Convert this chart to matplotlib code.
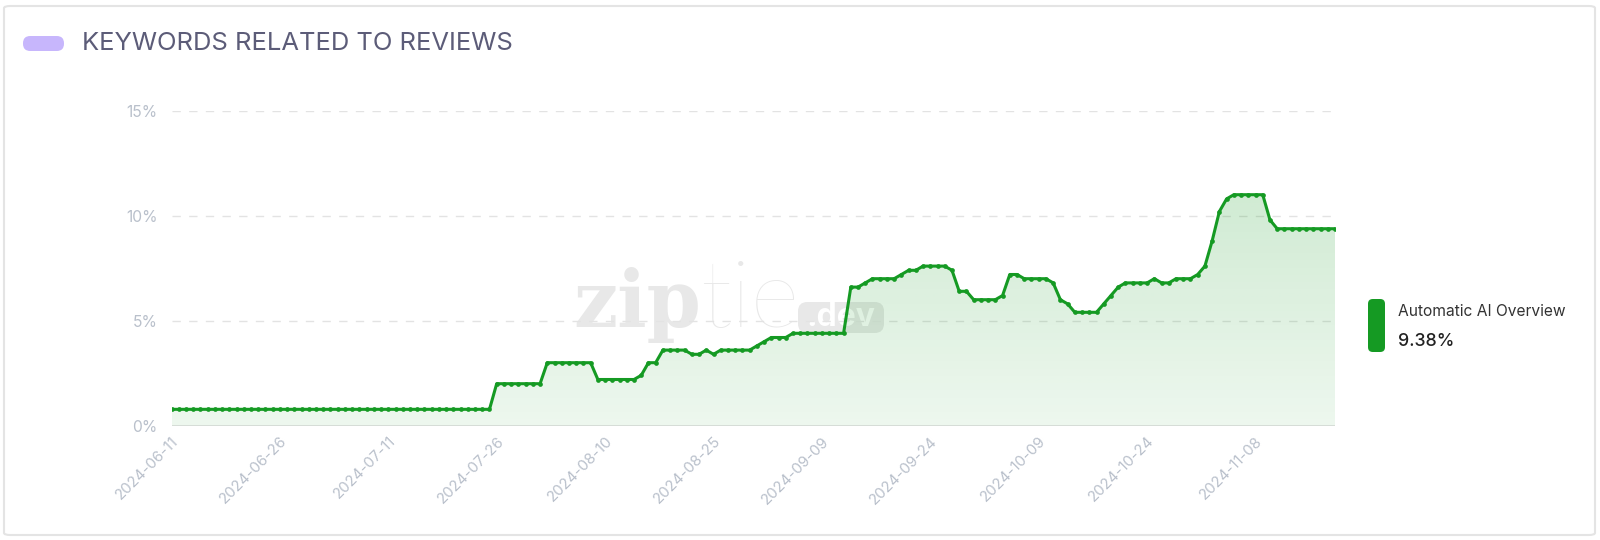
import matplotlib
matplotlib.use("Agg")
import matplotlib.pyplot as plt
import matplotlib.dates as mdates
from matplotlib.patches import FancyBboxPatch
from matplotlib.colors import to_rgb
import numpy as np
import pandas as pd

# ---------------- data ----------------
start_date = "2024-06-11"
values = [
    0.78, 0.78, 0.78, 0.78, 0.78, 0.78, 0.78, 0.78, 0.78, 0.78,
    0.78, 0.78, 0.78, 0.78, 0.78, 0.78, 0.78, 0.78, 0.78, 0.78,
    0.78, 0.78, 0.78, 0.78, 0.78, 0.78, 0.78, 0.78, 0.78, 0.78,
    0.78, 0.78, 0.78, 0.78, 0.78, 0.78, 0.78, 0.78, 0.78, 0.78,
    0.78, 0.78, 0.78, 0.78, 0.78,
    2.0, 2.0, 2.0, 2.0, 2.0, 2.0, 2.0,
    3.0, 3.0, 3.0, 3.0, 3.0, 3.0, 3.0,
    2.2, 2.2, 2.2, 2.2, 2.2, 2.2,
    2.4, 3.0, 3.0,
    3.6, 3.6, 3.6, 3.6,
    3.4, 3.4, 3.6, 3.4,
    3.6, 3.6, 3.6, 3.6, 3.6,
    3.8, 4.0, 4.2, 4.2, 4.2,
    4.4, 4.4, 4.4, 4.4, 4.4, 4.4, 4.4, 4.4,
    6.6, 6.6, 6.8,
    7.0, 7.0, 7.0, 7.0,
    7.2, 7.4, 7.4,
    7.6, 7.6, 7.6, 7.6,
    7.4, 6.4, 6.4,
    6.0, 6.0, 6.0, 6.0,
    6.2, 7.2, 7.2,
    7.0, 7.0, 7.0, 7.0,
    6.8, 6.0, 5.8,
    5.4, 5.4, 5.4, 5.4,
    5.8, 6.2, 6.6,
    6.8, 6.8, 6.8, 6.8,
    7.0, 6.8, 6.8,
    7.0, 7.0, 7.0,
    7.2, 7.6, 8.8, 10.2, 10.8,
    11.0, 11.0, 11.0, 11.0, 11.0,
    9.8,
    9.38, 9.38, 9.38, 9.38, 9.38, 9.38, 9.38, 9.38, 9.38,
]
dates = pd.date_range(start_date, periods=len(values), freq="D")
tick_labels = ["2024-06-11", "2024-06-26", "2024-07-11", "2024-07-26",
               "2024-08-10", "2024-08-25", "2024-09-09", "2024-09-24",
               "2024-10-09", "2024-10-24", "2024-11-08"]
y_ticks = [0, 5, 10, 15]
y_tick_labels = ["0%", "5%", "10%", "15%"]
title = "KEYWORDS RELATED TO REVIEWS"
series_name = "Automatic AI Overview"
latest_label = "9.38%"

# ---------------- style ----------------
GREEN = "#159a23"
TICK_C = "#b9c0cb"
WM_C = "#e8e8e8"
plt.rcParams["font.family"] = ["Inter", "DejaVu Sans"]

W, H = 1600, 540
fig = plt.figure(figsize=(W / 100, H / 100), dpi=100)
fig.patch.set_facecolor("white")

# card border
card = FancyBboxPatch((4 / W, 5 / H), 1591 / W, 529 / H,
                      boxstyle="round,pad=0,rounding_size=0.004",
                      transform=fig.transFigure, fc="none", ec="#e4e4e4",
                      lw=1.5, zorder=-1)
fig.patches.append(card)

# title pill + title
pill = FancyBboxPatch((23 / W, (H - 51) / H), 41 / W, 15 / H,
                      boxstyle="round,pad=0,rounding_size=0.0045",
                      transform=fig.transFigure, fc="#c7b6fc", ec="none",
                      mutation_aspect=W / H)
fig.patches.append(pill)
fig.text(82 / W, (H - 44) / H, title, fontsize=18.4, color="#5c5c78",
         va="center", ha="left")

# axes
x_left, x_right = 171.5, 1335
y_bot, y_top = 425.7, 110.7
ax_w, ax_h = x_right - x_left, y_bot - y_top
ax = fig.add_axes([x_left / W, (H - y_bot) / H, ax_w / W, ax_h / H])
ax.set_facecolor("none")
xnum = mdates.date2num(dates)

# watermark (behind everything in the axes)
ax.text((573 - x_left) / ax_w, (y_bot - 327) / ax_h, "zip",
        transform=ax.transAxes, fontsize=56, family="DejaVu Serif",
        weight="bold", color=WM_C, ha="left", va="baseline", zorder=0)
ax.text((700 - x_left) / ax_w, (y_bot - 327) / ax_h, "tie",
        transform=ax.transAxes, fontsize=68, family="Lato",
        weight="light", color=WM_C, ha="left", va="baseline", zorder=0)
wm_box = FancyBboxPatch(((798 - x_left) / ax_w, (y_bot - 333) / ax_h),
                        86 / ax_w, 31 / ax_h,
                        boxstyle="round,pad=0,rounding_size=0.008",
                        transform=ax.transAxes, fc=WM_C, ec="none",
                        zorder=0.5, mutation_aspect=ax_w / ax_h)
ax.add_patch(wm_box)
ax.text((841 - x_left) / ax_w, (y_bot - 318) / ax_h, ".dev",
        transform=ax.transAxes, fontsize=23, weight="bold", color="white",
        ha="center", va="center", zorder=0.6)

# grid
for yv in y_ticks[1:]:
    ax.axhline(yv, color="#e3e3e3", lw=1.0, dashes=(6, 6), zorder=1)
ax.axhline(0, color="#dcdcdc", lw=1.2, zorder=2)

# gradient fill
vals = np.array(values)
ymax_fill = vals.max()
poly = ax.fill_between(xnum, 0, vals, color="none", lw=0)
rgb = np.array(to_rgb(GREEN))
ngrad = 256
alphas = np.linspace(0.075, 0.2, ngrad)[:, None]
img = np.zeros((ngrad, 2, 4))
img[..., :3] = rgb
img[..., 3] = alphas
im = ax.imshow(img, extent=[xnum[0], xnum[-1], 0, ymax_fill], origin="lower",
               aspect="auto", zorder=2, interpolation="bilinear")
im.set_clip_path(poly.get_paths()[0], transform=ax.transData)

# line
ax.plot(xnum, vals, color=GREEN, lw=2.2, marker="o", ms=3.4,
        markeredgewidth=0, zorder=4, solid_joinstyle="round")

ax.set_xlim(xnum[0], xnum[-1])
ax.set_ylim(0, 15)

# ticks
tick_pos = mdates.date2num(pd.to_datetime(tick_labels))
ax.set_xticks(tick_pos)
ax.set_xticklabels(tick_labels, rotation=45, ha="right", va="top",
                   rotation_mode="anchor", color=TICK_C, fontsize=10.8)
ax.set_yticks(y_ticks)
ax.set_yticklabels(y_tick_labels, color=TICK_C, fontsize=11.3)
ax.tick_params(axis="both", length=0)
ax.tick_params(axis="x", pad=6)
ax.tick_params(axis="y", pad=10)
for s in ax.spines.values():
    s.set_visible(False)

# legend
leg = FancyBboxPatch((1368 / W, (H - 352) / H), 17 / W, 53 / H,
                     boxstyle="round,pad=0,rounding_size=0.003",
                     transform=fig.transFigure, fc=GREEN, ec="none",
                     mutation_aspect=W / H)
fig.patches.append(leg)
fig.text(1398 / W, (H - 312) / H, series_name, fontsize=11.2, color="#333333",
         va="center", ha="left")
fig.text(1398 / W, (H - 341) / H, latest_label, fontsize=12.8,
         weight="medium", color="#222222", va="center", ha="left")

fig.savefig("out.png", dpi=100, facecolor="white")
